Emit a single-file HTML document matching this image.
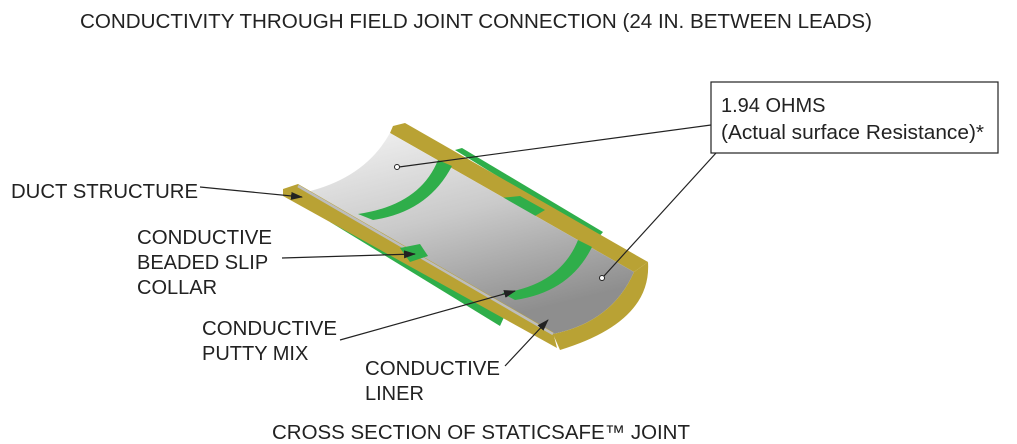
<!DOCTYPE html>
<html><head><meta charset="utf-8"><style>
html,body{margin:0;padding:0;background:#fff}
svg{display:block}
text{font-family:"Liberation Sans",sans-serif;font-size:20px;fill:#222}
</style></head><body>
<svg width="1017" height="444" viewBox="0 0 1017 444" xmlns="http://www.w3.org/2000/svg">
<defs>
<linearGradient id="g" x1="0" y1="0" x2="0.4" y2="1">
<stop offset="0" stop-color="#f4f4f4"/><stop offset="0.5" stop-color="#cacaca"/><stop offset="1" stop-color="#8e8e8e"/>
</linearGradient>
<marker id="a" markerWidth="12" markerHeight="8" refX="11" refY="4" orient="auto" markerUnits="userSpaceOnUse">
<path d="M0,0 L12,4 L0,8 Z" fill="#222"/></marker>
</defs>
<text x="80" y="28" textLength="792" lengthAdjust="spacingAndGlyphs">CONDUCTIVITY THROUGH FIELD JOINT CONNECTION (24 IN. BETWEEN LEADS)</text>
<polygon points="455,150 462,148 603,232 598,238" fill="#2fae4a"/>
<polygon points="330,222 340,218 505,315 500,326" fill="#2fae4a"/>
<polygon points="393,126 405,123 648,262 634,272 390,133" fill="#b9a234"/>
<polygon points="500,198 520,196 545,210 535,216" fill="#2fae4a"/>
<path d="M390,133 L634,272 Q612,322 553,334 L306,192 Q365,178 390,133 Z" fill="url(#g)"/>
<polygon points="283,189 298,184 553,332 557,348 283,196" fill="#b9a234"/>
<path d="M648,262 Q652,322 560,350 L553,334 Q612,322 634,272 Z" fill="#b9a234"/>
<line x1="298" y1="186" x2="553" y2="334" stroke="#bdbdbd" stroke-width="2.5"/>
<polygon points="400,248 420,244 428,256 410,262" fill="#2fae4a"/>
<path d="M438,160 L452,166 Q428,212 373,220 L358,214 Q420,205 438,160 Z" fill="#2fae4a"/>
<path d="M578,240 L592,247 Q570,292 515,300 L502,293 Q560,285 578,240 Z" fill="#2fae4a"/>
<g stroke="#222" stroke-width="1.2" fill="none">
<line x1="711" y1="125" x2="399" y2="167"/>
<line x1="716" y1="153" x2="604" y2="276"/>
<line x1="200" y1="187" x2="302" y2="197" marker-end="url(#a)"/>
<line x1="282" y1="258" x2="415" y2="254" marker-end="url(#a)"/>
<line x1="340" y1="340" x2="515" y2="291" marker-end="url(#a)"/>
<line x1="505" y1="366" x2="548" y2="320" marker-end="url(#a)"/>
</g>
<circle cx="397" cy="167" r="2.5" fill="#fff" stroke="#222" stroke-width="1"/>
<circle cx="602" cy="278" r="2.5" fill="#fff" stroke="#222" stroke-width="1"/>
<rect x="711" y="82" width="287" height="71" fill="#fff" stroke="#222" stroke-width="1.2"/>
<text x="721" y="112">1.94 OHMS</text>
<text x="721" y="139" textLength="263" lengthAdjust="spacingAndGlyphs">(Actual surface Resistance)*</text>
<text x="11" y="198" textLength="187" lengthAdjust="spacingAndGlyphs">DUCT STRUCTURE</text>
<text x="137" y="244" textLength="135" lengthAdjust="spacingAndGlyphs">CONDUCTIVE</text>
<text x="137" y="269">BEADED SLIP</text>
<text x="137" y="294">COLLAR</text>
<text x="202" y="335" textLength="135" lengthAdjust="spacingAndGlyphs">CONDUCTIVE</text>
<text x="202" y="360">PUTTY MIX</text>
<text x="365" y="375" textLength="135" lengthAdjust="spacingAndGlyphs">CONDUCTIVE</text>
<text x="365" y="400">LINER</text>
<text x="272" y="439" textLength="418" lengthAdjust="spacingAndGlyphs">CROSS SECTION OF STATICSAFE™ JOINT</text>
</svg>
</body></html>
